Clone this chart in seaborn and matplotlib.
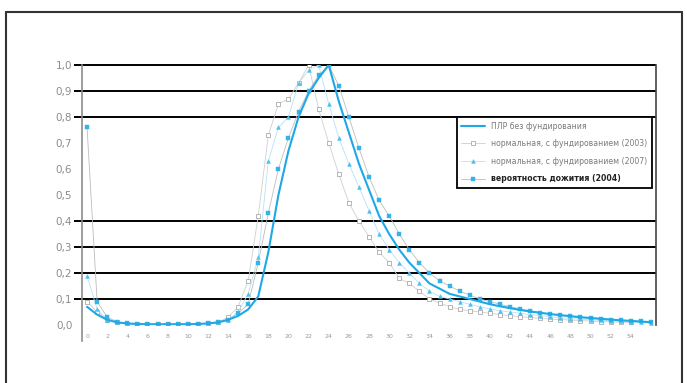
import numpy as np
import pandas as pd
import matplotlib.pyplot as plt
from matplotlib.lines import Line2D
import seaborn as sns

# категории по оси X (возраст/срок) и четыре ряда данных
years = list(range(57))
plr = [0.07, 0.04, 0.02, 0.01, 0.006, 0.004, 0.003, 0.003, 0.003, 0.003,
       0.003, 0.004, 0.006, 0.01, 0.02, 0.035, 0.06, 0.11, 0.28, 0.50,
       0.67, 0.80, 0.89, 0.95, 1.0, 0.86, 0.74, 0.62, 0.52, 0.42,
       0.35, 0.29, 0.24, 0.20, 0.16, 0.14, 0.12, 0.11, 0.10, 0.09,
       0.08, 0.072, 0.065, 0.058, 0.052, 0.047, 0.042, 0.038, 0.034, 0.030,
       0.027, 0.024, 0.021, 0.018, 0.016, 0.013, 0.011]
norm_2003 = [0.09, 0.05, 0.02, 0.01, 0.005, 0.003, 0.002, 0.002, 0.002, 0.002,
             0.003, 0.004, 0.006, 0.01, 0.03, 0.07, 0.17, 0.42, 0.73, 0.85,
             0.87, 0.93, 1.0, 0.83, 0.70, 0.58, 0.47, 0.40, 0.34, 0.28,
             0.24, 0.18, 0.16, 0.13, 0.10, 0.085, 0.07, 0.06, 0.055, 0.05,
             0.045, 0.04, 0.036, 0.032, 0.029, 0.026, 0.023, 0.021, 0.019, 0.017,
             0.015, 0.013, 0.012, 0.011, 0.01, np.nan, np.nan]
norm_2007 = [0.19, 0.06, 0.02, 0.01, 0.005, 0.003, 0.002, 0.002, 0.002, 0.002,
             0.003, 0.004, 0.006, 0.01, 0.02, 0.05, 0.12, 0.26, 0.63, 0.76,
             0.80, 0.93, 0.98, 1.0, 0.85, 0.72, 0.62, 0.53, 0.44, 0.35,
             0.29, 0.24, 0.20, 0.16, 0.13, 0.11, 0.10, 0.09, 0.08, 0.07,
             0.062, 0.055, 0.05, 0.045, 0.04, 0.036, 0.032, 0.028, 0.025, 0.022,
             0.02, 0.018, 0.016, 0.014, 0.012, 0.01, 0.008]
prob_2004 = [0.76, 0.09, 0.03, 0.012, 0.006, 0.004, 0.003, 0.003, 0.003, 0.003,
             0.003, 0.004, 0.006, 0.01, 0.02, 0.045, 0.08, 0.24, 0.43, 0.60,
             0.72, 0.82, 0.90, 0.96, 1.0, 0.92, 0.80, 0.68, 0.57, 0.48,
             0.42, 0.35, 0.29, 0.24, 0.20, 0.17, 0.15, 0.13, 0.115, 0.10,
             0.09, 0.08, 0.07, 0.062, 0.055, 0.048, 0.042, 0.037, 0.033, 0.029,
             0.026, 0.023, 0.02, 0.018, 0.016, 0.014, 0.012]

labels = ['ПЛР без фундирования',
          'нормальная, с фундированием (2003)',
          'нормальная, с фундированием (2007)',
          'вероятность дожития (2004)']
y_ticks = [0.0, 0.1, 0.2, 0.3, 0.4, 0.5, 0.6, 0.7, 0.8, 0.9, 1.0]
grid_levels = [0.1, 0.2, 0.3, 0.4, 0.8, 0.9, 1.0]
x_ticks = list(range(0, 56, 2))

df = pd.DataFrame({'x': years, 'a': plr, 'b': norm_2003,
                   'c': norm_2007, 'd': prob_2004})

sns.set_style('white')
plt.rcParams['font.family'] = ['DejaVu Sans']

fig = plt.figure(figsize=(6.87, 3.83), dpi=100)
ax = fig.add_axes([0.1194, 0.1514, 0.8355, 0.6789])

ax.hlines(grid_levels, -1.3, 56.5, colors='black', lw=1.4, clip_on=False, zorder=1)

sns.lineplot(data=df, x='x', y='b', ax=ax, color='#cfcfcf', lw=0.6,
             marker='s', markersize=2.3, markerfacecolor='white',
             markeredgecolor='#9a9a9a', markeredgewidth=0.5, label=labels[1], zorder=3)
sns.lineplot(data=df, x='x', y='c', ax=ax, color='#b5e2f7', lw=0.6,
             marker='^', markersize=2.8, markerfacecolor='#45c0f0',
             markeredgecolor='#45c0f0', markeredgewidth=0.3, label=labels[2], zorder=3)
sns.lineplot(data=df, x='x', y='d', ax=ax, color='#bdbdbd', lw=0.6,
             marker='s', markersize=2.5, markerfacecolor='#35b2e8',
             markeredgecolor='#35b2e8', markeredgewidth=0.3, label=labels[3], zorder=3)
sns.lineplot(data=df, x='x', y='a', ax=ax, color='#1ea8e6', lw=1.5,
             label=labels[0], zorder=4)

ax.set_xlim(-0.5, 56.5)
ax.set_ylim(0, 1.0)
ax.set_xlabel('')
ax.set_ylabel('')
ax.set_yticks(y_ticks)
ax.set_yticklabels([f'{v:.1f}'.replace('.', ',') for v in y_ticks])
ax.set_xticks(x_ticks)
ax.set_xticklabels([str(v) for v in x_ticks])
ax.tick_params(axis='y', length=0, pad=7, labelsize=7.5, labelcolor='#8c8c8c')
ax.tick_params(axis='x', length=1.5, width=0.8, color='#b0b0b0', pad=5,
               labelsize=4.5, labelcolor='#9a9a9a')

for side in ['top', 'bottom']:
    ax.spines[side].set_visible(False)
ax.spines['left'].set_color('#8c8c8c')
ax.spines['left'].set_linewidth(1.2)
ax.spines['left'].set_bounds(-0.06, 1.0)
ax.spines['right'].set_color('#444444')
ax.spines['right'].set_linewidth(1.2)

handles, lbls = ax.get_legend_handles_labels()
order = [lbls.index(l) for l in labels]
leg = ax.legend([handles[i] for i in order], [lbls[i] for i in order],
                loc='upper right', bbox_to_anchor=(0.999, 0.815),
                fontsize=5.6, frameon=True, fancybox=False, framealpha=1,
                handlelength=3.0, borderpad=0.6, labelspacing=1.1)
leg.get_frame().set_edgecolor('black')
leg.get_frame().set_linewidth(1.3)
for i, t in enumerate(leg.get_texts()):
    t.set_color('#222222' if i == 3 else '#7a7a7a')
    if i == 3:
        t.set_fontweight('bold')

# рамка области диаграммы
fig.add_artist(Line2D([0.0087, 0.0087], [0.0, 0.9687], color='#333333', lw=1.5))
fig.add_artist(Line2D([0.0087, 0.9927], [0.9687, 0.9687], color='#333333', lw=1.5))
fig.add_artist(Line2D([0.9927, 0.9927], [0.0, 0.9687], color='#333333', lw=1.5))

plt.savefig('out.png', dpi=100)
